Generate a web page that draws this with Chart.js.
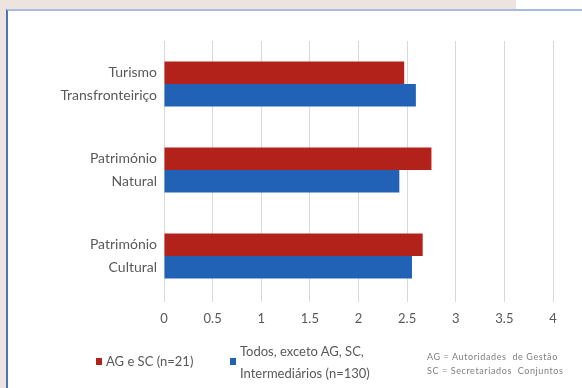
<!DOCTYPE html>
<html>
<head>
<meta charset="utf-8">
<script src="https://cdn.jsdelivr.net/npm/chart.js@4/dist/chart.umd.min.js"></script>
<style>
  html, body { margin: 0; padding: 0; }
  body { width: 582px; height: 388px; background: #EEE4DF; position: relative; overflow: hidden; font-family: Lato, "Open Sans", sans-serif; }
  .corner { position: absolute; left: 516px; top: 0; width: 66px; height: 10px; background: #FFFFFF; }
  .panel { position: absolute; left: 6px; top: 9px; width: 600px; height: 400px; background: #FFFFFF;
           border-top: 2px solid #A9BBDD; border-left: 2px solid #4E72B8; }
  #chart { position: absolute; left: 0; top: 0; }
  .legend-item { position: absolute; color: #595959; font-size: 13px; line-height: 22px; white-space: nowrap; }
  .swatch { position: absolute; width: 6px; height: 7px; }
  .note { position: absolute; left: 427px; top: 350px; color: #7F7F7F; font-size: 9px; line-height: 14px;
          letter-spacing: 0.6px; white-space: pre; }
</style>
</head>
<body>
<div class="corner"></div>
<div class="panel"></div>
<canvas id="chart" width="582" height="388"></canvas>
<div id="legend"></div>
<div class="note">AG = Autoridades  de Gestão
SC = Secretariados  Conjuntos</div>
<script>
// Dimensions evaluated (mean score, 0–4 scale)
const categories = [
  ["Turismo", "Transfronteiriço"],
  ["Património", "Natural"],
  ["Património", "Cultural"]
];
const agScLegend = ["AG e SC (n=21)"];
const todosLegend = ["Todos, exceto AG, SC,", "Intermediários (n=130)"];
const agScValues = [2.47, 2.75, 2.66];
const todosValues = [2.59, 2.42, 2.55];
const xTickValues = [0, 0.5, 1, 1.5, 2, 2.5, 3, 3.5, 4];

const RED = "#B3211B";
const BLUE = "#2162B7";
const TEXT = "#595959";

const chart = new Chart(document.getElementById("chart"), {
  type: "bar",
  data: {
    labels: categories,
    datasets: [
      { label: agScLegend.join(" "), data: agScValues, backgroundColor: RED, legendLines: agScLegend },
      { label: todosLegend.join(" "), data: todosValues, backgroundColor: BLUE, legendLines: todosLegend }
    ]
  },
  options: {
    indexAxis: "y",
    responsive: false,
    animation: false,
    layout: { padding: { top: 41, right: 29, left: 0, bottom: 0 } },
    datasets: { bar: { categoryPercentage: 0.524, barPercentage: 1.0 } },
    plugins: { legend: { display: false }, tooltip: { enabled: false } },
    scales: {
      x: {
        min: 0, max: 4,
        afterBuildTicks: (scale) => { scale.ticks = xTickValues.map(v => ({ value: v })); },
        afterFit: (scale) => { scale.height = 89; },
        grid: { color: "#D9D9D9", lineWidth: 1, drawTicks: true, tickLength: 3 },
        border: { display: false },
        ticks: { color: TEXT, padding: 9, font: { family: "Lato", size: 13 },
                 callback: (v) => String(v) }
      },
      y: {
        afterFit: (scale) => { scale.width = 164; },
        grid: { display: false, drawTicks: false },
        border: { display: false },
        ticks: { color: TEXT, padding: 7, font: { family: "Lato", size: 14, lineHeight: 1.6 } }
      }
    }
  }
});

// Legend drawn from the chart's own datasets
const legendPos = [
  { sx: 96, sy: 358, tx: 106, ty: 350 },
  { sx: 230, sy: 358, tx: 240, ty: 340 }
];
const legendEl = document.getElementById("legend");
chart.data.datasets.forEach((ds, i) => {
  const p = legendPos[i];
  const sw = document.createElement("div");
  sw.className = "swatch";
  sw.style.left = p.sx + "px";
  sw.style.top = p.sy + "px";
  sw.style.background = ds.backgroundColor;
  legendEl.appendChild(sw);
  const t = document.createElement("div");
  t.className = "legend-item";
  t.style.left = p.tx + "px";
  t.style.top = p.ty + "px";
  t.innerHTML = ds.legendLines.join("<br>");
  legendEl.appendChild(t);
});
</script>
</body>
</html>
